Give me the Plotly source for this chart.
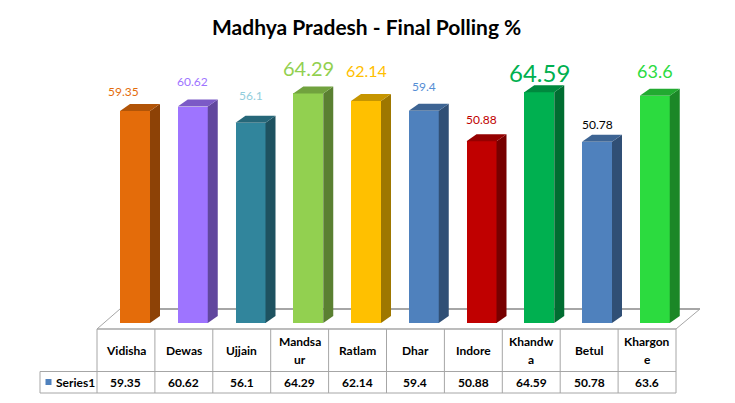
import plotly.graph_objects as go

# ---------------- data ----------------
categories = ["Vidisha", "Dewas", "Ujjain", "Mandsaur", "Ratlam", "Dhar",
              "Indore", "Khandwa", "Betul", "Khargone"]
header_labels = ["Vidisha", "Dewas", "Ujjain", "Mandsa<br>ur", "Ratlam", "Dhar",
                 "Indore", "Khandw<br>a", "Betul", "Khargon<br>e"]
values = [59.35, 60.62, 56.1, 64.29, 62.14, 59.4, 50.88, 64.59, 50.78, 63.6]
series_name = "Series1"
title_text = "Madhya Pradesh - Final Polling %"

# ---------------- styles ----------------
bar_colors = ["#E46C0A", "#9E74FF", "#31859C", "#92D050", "#FFC000",
              "#4F81BD", "#C00000", "#00B050", "#4F81BD", "#2CDB3F"]
label_colors = ["#E46C0A", "#9E74FF", "#92CDDC", "#92D050", "#FFC000",
                "#558ED5", "#C00000", "#00B050", "#000000", "#2CDB3F"]
label_sizes = [12, 12, 12, 20, 16, 12, 12, 24, 12, 18]
label_yshift = [20, 25, 27, 25, 31, 24, 22, 20, 17, 25]
label_xshift = [-12, 0, 0, 0, 0, 0, 0, 0, 0, 0]

FONT = "Lato"
W, H = 735, 403
X0_PX, X_STEP = 135.0, 57.75      # pixel of first bar centre, px per category
Y0_PX, Y_SCALE = 323.0, 3.5714    # pixel of value 0, px per unit
BAR_W = 30 / X_STEP
DX = 10 / X_STEP
DY = 7 / Y_SCALE
GRID = "#A6A6A6"


def shade(hexc, f):
    hexc = hexc.lstrip("#")
    r, g, b = (int(hexc[i:i + 2], 16) for i in (0, 2, 4))
    return "#%02X%02X%02X" % (int(r * f), int(g * f), int(b * f))


def px(x):
    return x / W


def py(y):
    return 1 - y / H


idx = list(range(len(categories)))
fig = go.Figure()

# front faces
fig.add_trace(go.Bar(
    x=idx, y=values, width=BAR_W, marker_color=bar_colors,
    marker_line_width=0, hoverinfo="skip", showlegend=False,
    text=categories, textposition="none"))

# side and top faces (3D look)
for i, v in enumerate(values):
    l, r = i - BAR_W / 2, i + BAR_W / 2
    fig.add_trace(go.Scatter(
        x=[r, r + DX, r + DX, r, r], y=[0, DY, v + DY, v, 0],
        fill="toself", mode="lines", line=dict(width=0),
        fillcolor=shade(bar_colors[i], 0.62), hoverinfo="skip", showlegend=False))
    fig.add_trace(go.Scatter(
        x=[l, l + DX, r + DX, r, l], y=[v, v + DY, v + DY, v, v],
        fill="toself", mode="lines", line=dict(width=0),
        fillcolor=shade(bar_colors[i], 0.78), hoverinfo="skip", showlegend=False))

annotations = []
shapes = []

# data labels
for i, v in enumerate(values):
    annotations.append(dict(
        x=i, y=v, xref="x", yref="y", text=str(v), showarrow=False,
        yanchor="middle", xanchor="center", yshift=label_yshift[i],
        xshift=label_xshift[i],
        font=dict(family=FONT, size=label_sizes[i], color=label_colors[i])))

# title
annotations.append(dict(
    x=px(366.5), y=py(27), xref="paper", yref="paper", text="<b>%s</b>" % title_text,
    showarrow=False, xanchor="center", yanchor="middle",
    font=dict(family=FONT, size=21, color="#000000")))

# floor
shapes.append(dict(
    type="path", xref="paper", yref="paper", layer="below",
    path="M %f %f L %f %f L %f %f L %f %f Z" % (
        px(120), py(309), px(700), py(309), px(676), py(329), px(97), py(329)),
    line=dict(color=GRID, width=1), fillcolor="#FFFFFF"))
shapes.append(dict(type="line", xref="paper", yref="paper", layer="below",
                   x0=px(120), y0=py(309), x1=px(700), y1=py(309),
                   line=dict(color=GRID, width=2)))

# data table
T_LEFT, COL_W = 97.0, 57.9
n = len(categories)
T_RIGHT = T_LEFT + COL_W * n
ROW0, ROW1, ROW2 = 329.0, 371.5, 393.0
LEG_LEFT = 40.0


def hline(y, x0, x1):
    shapes.append(dict(type="line", xref="paper", yref="paper",
                       x0=px(x0), y0=py(y), x1=px(x1), y1=py(y),
                       line=dict(color=GRID, width=1)))


def vline(x, y0, y1):
    shapes.append(dict(type="line", xref="paper", yref="paper",
                       x0=px(x), y0=py(y0), x1=px(x), y1=py(y1),
                       line=dict(color=GRID, width=1)))


hline(ROW0, T_LEFT, T_RIGHT)
hline(ROW1, LEG_LEFT, T_RIGHT)
hline(ROW2, LEG_LEFT, T_RIGHT)
vline(LEG_LEFT, ROW1, ROW2)
for k in range(n + 1):
    vline(T_LEFT + COL_W * k, ROW0, ROW2)

for k in range(n):
    cx = T_LEFT + COL_W * (k + 0.5)
    lines = header_labels[k].split("<br>")
    if len(lines) == 1:
        ys = [350.5]
    else:
        ys = [341.5, 359.5]
    for t, yy in zip(lines, ys):
        annotations.append(dict(
            x=px(cx), y=py(yy), xref="paper", yref="paper", text="<b>%s</b>" % t,
            showarrow=False, xanchor="center", yanchor="middle",
            font=dict(family=FONT, size=12, color="#000000")))
    annotations.append(dict(
        x=px(cx), y=py(382.5), xref="paper", yref="paper",
        text="<b>%s</b>" % values[k],
        showarrow=False, xanchor="center", yanchor="middle",
        font=dict(family=FONT, size=12, color="#000000")))

# legend key in table
shapes.append(dict(type="rect", xref="paper", yref="paper",
                   x0=px(45.5), x1=px(51.5), y0=py(379), y1=py(385),
                   fillcolor="#4F81BD", line=dict(width=0)))
annotations.append(dict(
    x=px(54), y=py(382.5), xref="paper", yref="paper", text="<b>%s</b>" % series_name,
    showarrow=False, xanchor="left", yanchor="middle",
    font=dict(family=FONT, size=12, color="#000000")))

fig.update_layout(
    width=W, height=H,
    margin=dict(l=0, r=0, t=0, b=0, pad=0),
    paper_bgcolor="#FFFFFF", plot_bgcolor="rgba(0,0,0,0)",
    xaxis=dict(range=[-X0_PX / X_STEP, (W - X0_PX) / X_STEP], visible=False,
               fixedrange=True),
    yaxis=dict(range=[-(H - Y0_PX) / Y_SCALE, Y0_PX / Y_SCALE], visible=False,
               fixedrange=True),
    showlegend=False,
    annotations=annotations,
    shapes=shapes,
    bargap=0,
)

fig.write_html("out.html")
